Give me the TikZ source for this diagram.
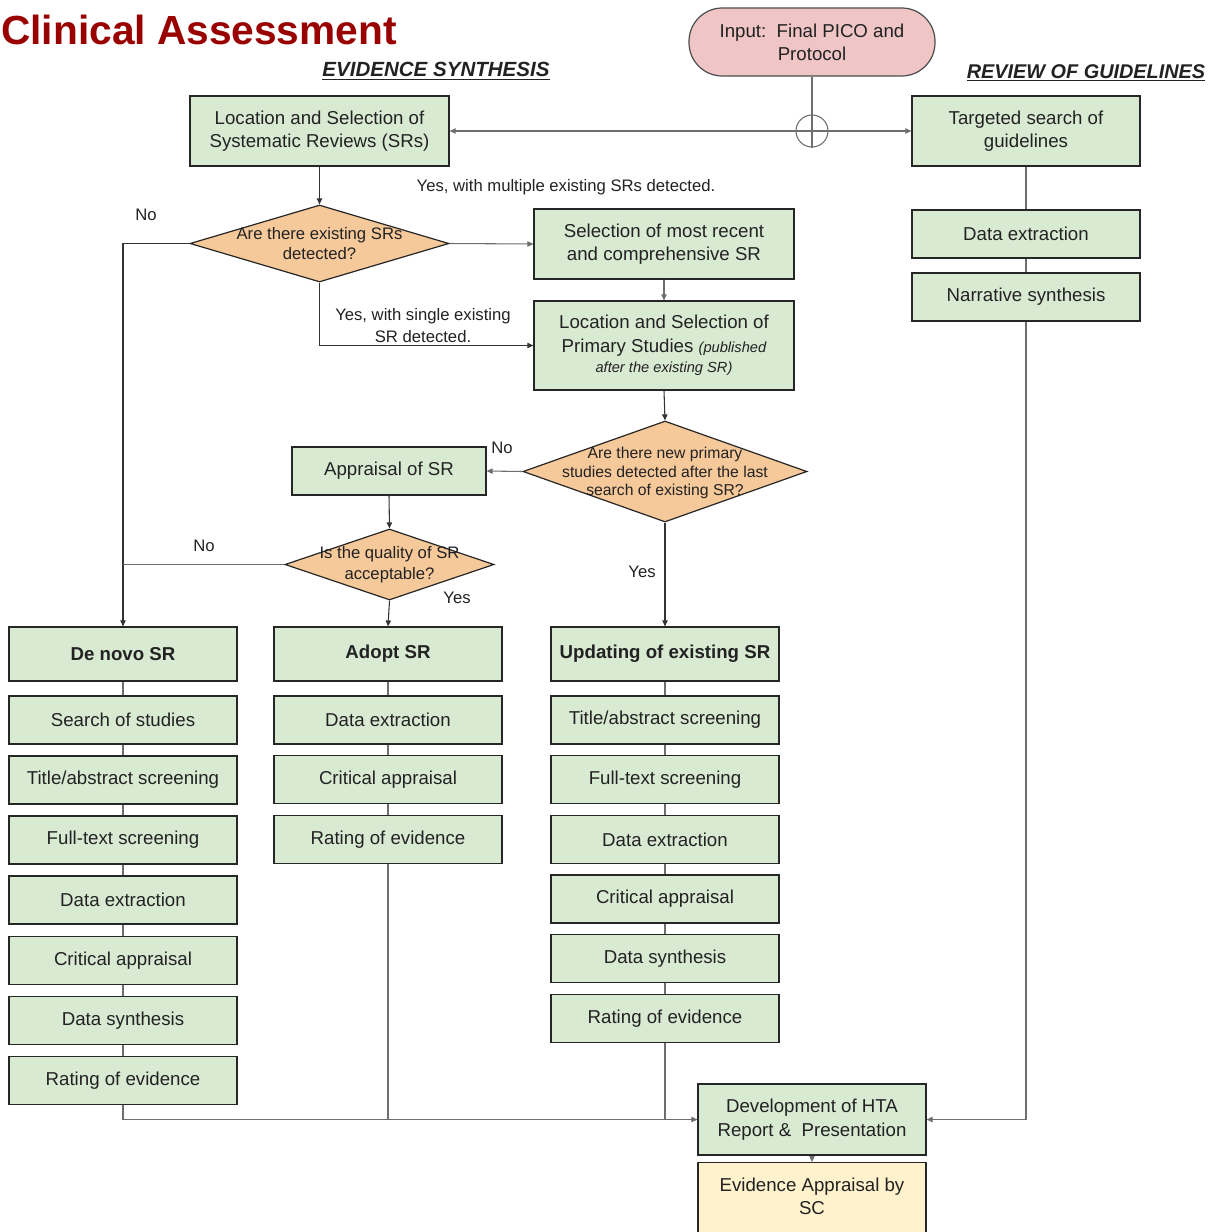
\documentclass[tikz,border=0pt]{standalone}
\usepackage{fontspec}
\setmainfont{Liberation Sans}
\usetikzlibrary{shapes.geometric,arrows.meta}
\definecolor{boxgreen}{HTML}{D9EAD3}
\definecolor{diaorange}{HTML}{F6C99B}
\definecolor{inpink}{HTML}{EFC5C6}
\definecolor{evyellow}{HTML}{FFF2CC}
\definecolor{titlered}{HTML}{990000}
\definecolor{txt}{HTML}{222222}
\definecolor{lgray}{HTML}{6E6E6E}
\begin{document}
\begin{tikzpicture}[x=0.75pt,y=-0.75pt,
  every node/.style={text=txt},
  box/.style={draw=black!85, fill=boxgreen, line width=0.9pt, align=center,
    font=\fontsize{14}{17.5}\selectfont, inner sep=0pt,
    minimum width=171pt, minimum height=36pt},
  hdr/.style={box, minimum height=40.5pt, font=\bfseries\fontsize{14}{17.5}\selectfont},
  dia/.style={draw=black!85, fill=diaorange, line width=0.9pt, shape=diamond, inner sep=0pt},
  dtext/.style={align=center, inner sep=0pt},
  lbl/.style={font=\fontsize{12.5}{16}\selectfont, align=center, inner sep=0pt},
  conn/.style={draw=lgray, line width=0.8pt},
  dconn/.style={draw=black!80, line width=0.8pt},
  arr/.style={-{Triangle[length=4.5pt,width=4pt]}}
]
\useasboundingbox[clip] (0,0) rectangle (1214,1232);
\fill[white] (0,0) rectangle (1214,1232);

% titles
\node[anchor=west, inner sep=0pt, text=titlered, font=\bfseries\fontsize{30.5}{34}\selectfont] (title) at (1,30) {Clinical Assessment};
\node[inner sep=0pt, font=\bfseries\itshape\fontsize{15.4}{18}\selectfont] (es) at (436,71) {\underline{EVIDENCE SYNTHESIS}};
\node[inner sep=0pt, font=\bfseries\itshape\fontsize{14.9}{18}\selectfont] (rg) at (1086,73) {\underline{REVIEW OF GUIDELINES}};

% input
\node[draw=black!70, fill=inpink, line width=0.9pt, rounded corners=25pt, minimum width=184.5pt, minimum height=51pt, align=center, inner sep=0pt, font=\fontsize{14}{17.5}\selectfont] (inp) at (812,42) {Input:\ \ Final PICO and\\Protocol};
\node[draw=lgray, line width=0.8pt, circle, minimum size=24pt, inner sep=0pt] (junc) at (812,131) {};

% evidence synthesis top
\node[box, minimum width=194.25pt, minimum height=52.5pt] (locsr) at (319.5,131) {Location and Selection of\\Systematic Reviews (SRs)};
\node[box, minimum width=171pt, minimum height=52.5pt] (targ) at (1026,131) {Targeted search of\\guidelines};
\node[box] (gdext) at (1026,234) {Data extraction};
\node[box] (narr) at (1026,297) {Narrative synthesis};

\node[dia, minimum width=194.25pt, minimum height=57.75pt] (d1) at (319.5,243.5) {};
\node[dtext, font=\fontsize{12.5}{15.5}\selectfont] (d1t) at (d1) {Are there existing SRs\\detected?};

\node[box, minimum width=195pt, minimum height=52.5pt] (sel) at (664,244) {Selection of most recent\\and comprehensive SR};
\node[box, minimum width=195pt, minimum height=66.75pt] (locps) at (664,345.5) {Location and Selection of\\Primary Studies {\itshape\fontsize{11}{14}\selectfont(published}\\[-2pt]{\itshape\fontsize{11}{14}\selectfont after the existing SR)}};

\node[dia, minimum width=213pt, minimum height=75.75pt] (d2) at (665,471.5) {};
\node[dtext, font=\fontsize{11.8}{14}\selectfont] (d2t) at (665,473) {Are there new primary\\studies detected after the last\\search of existing SR?};

\node[box, minimum width=145.5pt] (appr) at (389,471) {Appraisal of SR};

\node[dia, minimum width=156.75pt, minimum height=53.25pt] (d3) at (389.5,564.5) {};
\node[dtext, font=\fontsize{12.5}{15.5}\selectfont] (d3t) at (d3) {Is the quality of SR\\acceptable?};

% columns
\node[hdr] (dn0) at (123,654) {De novo SR};
\node[box] (dn1) at (123,720) {Search of studies};
\node[box] (dn2) at (123,780) {Title/abstract screening};
\node[box] (dn3) at (123,840) {Full-text screening};
\node[box] (dn4) at (123,900) {Data extraction};
\node[box] (dn5) at (123,960.5) {Critical appraisal};
\node[box] (dn6) at (123,1020.5) {Data synthesis};
\node[box] (dn7) at (123,1080.5) {Rating of evidence};

\node[hdr] (ad0) at (388,654) {Adopt SR};
\node[box] (ad1) at (388,720) {Data extraction};
\node[box] (ad2) at (388,779.5) {Critical appraisal};
\node[box] (ad3) at (388,839.5) {Rating of evidence};

\node[hdr] (up0) at (665,654) {Updating of existing SR};
\node[box] (up1) at (665,720) {Title/abstract screening};
\node[box] (up2) at (665,779.5) {Full-text screening};
\node[box] (up3) at (665,839.5) {Data extraction};
\node[box] (up4) at (665,899) {Critical appraisal};
\node[box] (up5) at (665,958.5) {Data synthesis};
\node[box] (up6) at (665,1018.5) {Rating of evidence};

\node[box, minimum width=171pt, minimum height=53.25pt] (dev) at (812,1119.5) {Development of HTA\\Report \&\ \ Presentation};
\node[box, fill=evyellow, minimum width=171pt, minimum height=55.5pt, anchor=north, text depth=0pt] (evid) at (812,1162) {};
\node[dtext, font=\fontsize{14}{17.5}\selectfont] (evidt) at (812,1196) {Evidence Appraisal by\\SC};

% connectors
\draw[conn] (inp.south) -- (junc.south);
\draw[conn,arr] (junc.center) -- (locsr.east);
\draw[conn,arr] (junc.center) -- (targ.west);
\draw[conn] (targ.south) -- (gdext.north);
\draw[conn] (gdext.south) -- (narr.north);
\draw[conn,arr] (narr.south) |- (dev.east);

\draw[dconn,arr] (locsr.south) -- (d1.north);
\draw[conn,arr] (d1.east) -- (sel.west);
\draw[conn,arr] (sel.south) -- (locps.north);
\draw[dconn,arr] (d1.south) |- (locps.west);
\draw[dconn,arr] (d1.west) -| (dn0.north);
\draw[dconn,arr] (locps.south) -- (d2.north);
\draw[conn,arr] (d2.west) -- (appr.east);
\draw[dconn,arr] (appr.south) -- (d3.north);
\draw[conn] (d3.west) -- (dn0.north |- d3.west);
\draw[dconn,arr] (d3.south) -- (ad0.north);
\draw[dconn,arr] (d2.south) -- (up0.north);

\draw[conn] (dn0.south) -- (dn1.north);
\draw[conn] (dn1.south) -- (dn2.north);
\draw[conn] (dn2.south) -- (dn3.north);
\draw[conn] (dn3.south) -- (dn4.north);
\draw[conn] (dn4.south) -- (dn5.north);
\draw[conn] (dn5.south) -- (dn6.north);
\draw[conn] (dn6.south) -- (dn7.north);
\draw[conn] (ad0.south) -- (ad1.north);
\draw[conn] (ad1.south) -- (ad2.north);
\draw[conn] (ad2.south) -- (ad3.north);
\draw[conn] (up0.south) -- (up1.north);
\draw[conn] (up1.south) -- (up2.north);
\draw[conn] (up2.south) -- (up3.north);
\draw[conn] (up3.south) -- (up4.north);
\draw[conn] (up4.south) -- (up5.north);
\draw[conn] (up5.south) -- (up6.north);

\draw[conn,arr] (dn7.south) |- (dev.west);
\draw[conn] (ad3.south) -- (ad3.south |- dev.west);
\draw[conn] (up6.south) -- (up6.south |- dev.west);
\draw[conn,arr] (dev.south) -- (evid.north);

% labels
\node[lbl] (l1) at (566,187) {Yes, with multiple existing SRs detected.};
\node[lbl] (l2) at (423,325.5) {Yes, with single existing\\SR detected.};
\node[lbl] (l3) at (146,215) {No};
\node[lbl] (l4) at (502,448) {No};
\node[lbl] (l5) at (204,546) {No};
\node[lbl] (l6) at (457,598) {Yes};
\node[lbl] (l7) at (642,572) {Yes};
\end{tikzpicture}
\end{document}
